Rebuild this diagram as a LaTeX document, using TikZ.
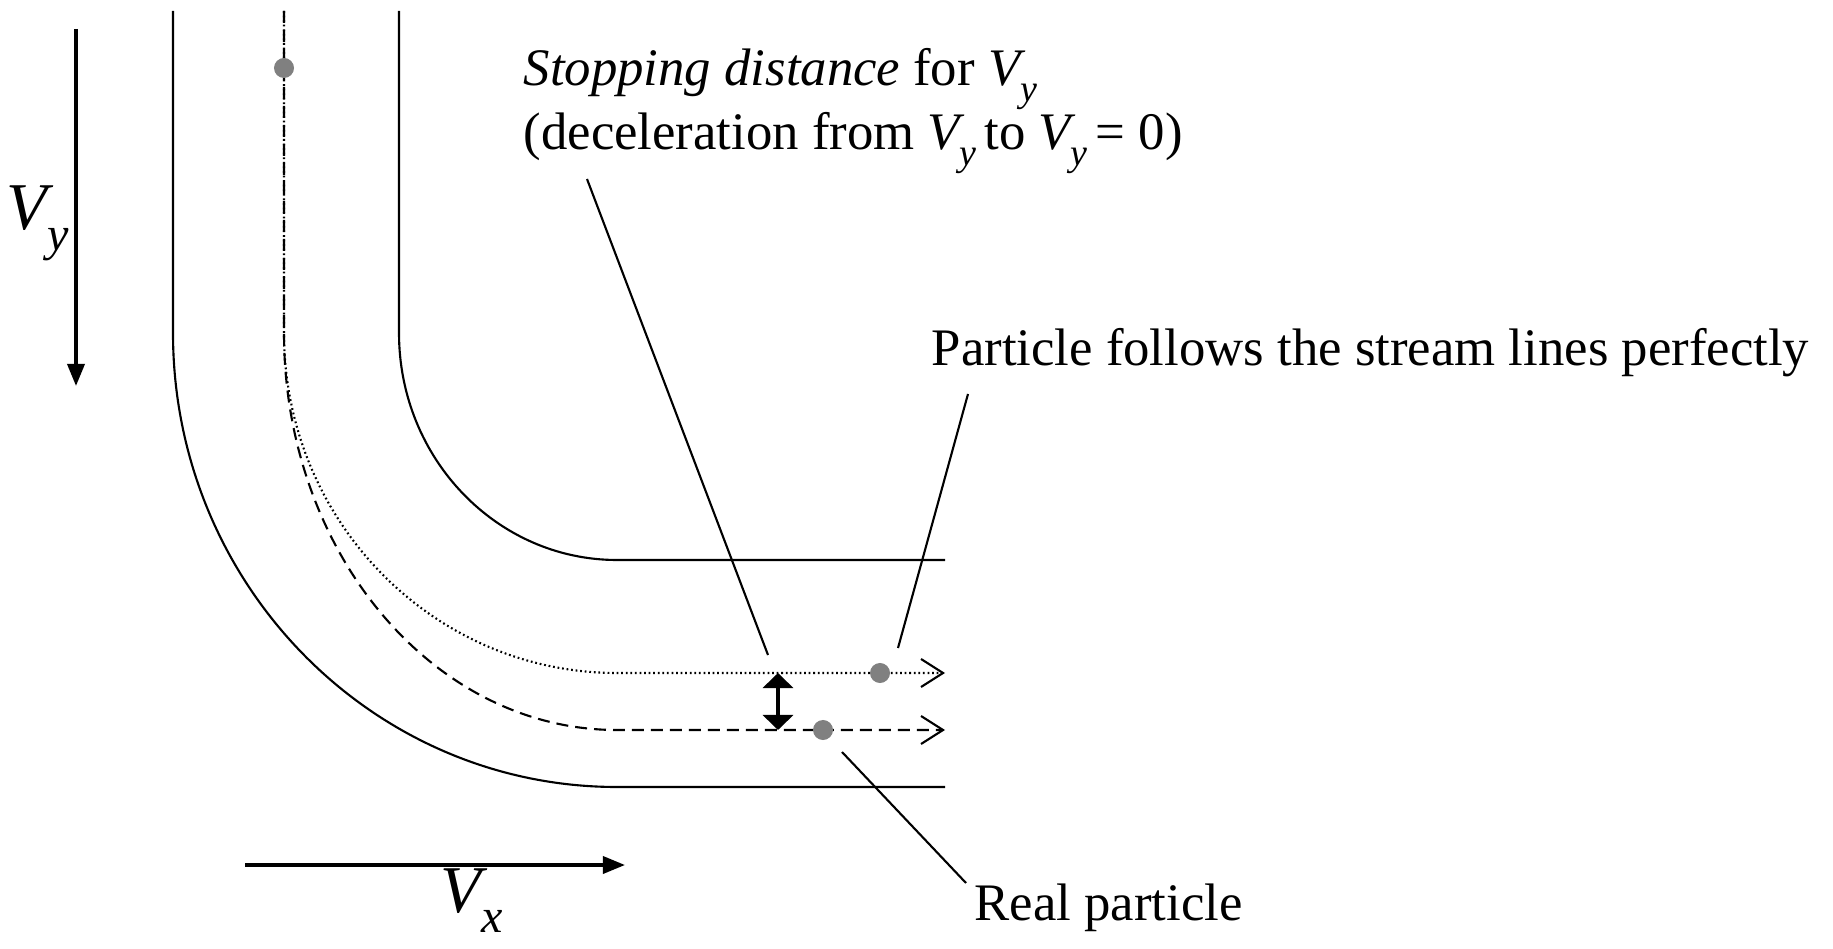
\documentclass[tikz,border=0pt]{standalone}
\usepackage{graphicx}
\usepackage{fontspec}
\setmainfont{Liberation Serif}
\usetikzlibrary{arrows.meta}
% velocity symbol with a low subscript
\newcommand{\vel}[1]{\textit{V}\kern-0.1em\raisebox{-0.3em}{\scalebox{0.72}{\textit{#1}}}\kern0.15em}

\begin{document}
\begin{tikzpicture}[x=0.01cm,y=-0.01cm,
    wall/.style={line width=0.6pt},
    dotline/.style={line width=0.6pt, dash pattern=on 0.5pt off 0.8pt},
    dashline/.style={line width=0.6pt, dash pattern=on 3.4pt off 2pt},
    flowtip/.style={-{Straight Barb[length=2.2mm,width=2.8mm,line width=0.6pt]}},
    dot/.style={circle, fill=gray, inner sep=0pt, minimum size=2mm},
    lbl/.style={font=\fontsize{15}{17}\selectfont, inner sep=0pt, anchor=base west},
    vlbl/.style={font=\fontsize{19}{21}\selectfont, inner sep=0pt, anchor=base west},
    leader/.style={line width=0.6pt}]
    \useasboundingbox (0,0) rectangle (1833,949);
    % Velocity arrows
    \coordinate (vytop) at (76,29);
    \coordinate (vybot) at (76,386);
    \coordinate (vxleft) at (245,865);
    \coordinate (vxright) at (625,865);
    \draw [line width=1pt, -{Triangle[length=2.2mm,width=1.7mm]}] (vytop) -- (vybot);
    \draw [line width=1pt, -{Triangle[length=2.2mm,width=1.7mm]}] (vxleft) -- (vxright);
    \node [vlbl] (vy) at (6,230) {\vel{y}};
    \node [vlbl] (vx) at (440,912) {\vel{x}};
    % Walls
    \draw [wall] (173,11) -- (173,333) arc[start angle=180, end angle=90, x radius=444, y radius=454] -- (945,787);
    \draw [wall] (399,11) -- (399,333) arc[start angle=180, end angle=90, x radius=218, y radius=227] -- (945,560);
    % Stream lines
    \draw [dotline, flowtip] (284,11) -- (284,333) arc[start angle=180, end angle=90, x radius=333, y radius=340] -- (945,673);
    \draw [dashline, flowtip] (284,11) -- (284,333) arc[start angle=180, end angle=90, x radius=333, y radius=397] -- (945,730);
    % Particles
    \node [dot] (pstart) at (284,68) {};
    \node [dot] (pflow) at (880,673) {};
    \node [dot] (preal) at (823,730) {};
    % Stopping distance
    \coordinate (sdtop) at (778,673);
    \coordinate (sdbot) at (778,730);
    \draw [line width=1pt, {Triangle[length=1.5mm,width=3mm]}-{Triangle[length=1.5mm,width=3mm]}] (sdtop) -- (sdbot);
    % Texts
    \node [lbl] (stop1) at (523,86) {\textit{Stopping distance} for \vel{y}};
    \node [lbl] (stop2) at (523,150) {(deceleration from \vel{y} to \vel{y} = 0)};
    \node [lbl] (follow) at (931,366) {Particle follows the stream lines perfectly};
    \node [lbl] (real) at (974,920) {Real particle};
    % Leaders
    \coordinate (stopa) at (587,179);
    \coordinate (stopb) at (768,655);
    \coordinate (followa) at (968,394);
    \coordinate (followb) at (898,648);
    \coordinate (reala) at (842,752);
    \coordinate (realb) at (966,883);
    \draw [leader] (stopa) -- (stopb);
    \draw [leader] (followa) -- (followb);
    \draw [leader] (reala) -- (realb);
\end{tikzpicture}
\end{document}
